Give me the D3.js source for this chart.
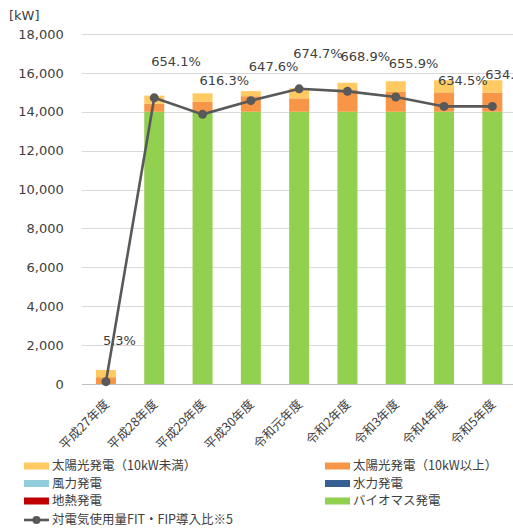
<!DOCTYPE html>
<html><head><meta charset="utf-8">
<script src="https://cdn.jsdelivr.net/npm/d3@7/dist/d3.min.js"></script>
<style>
html,body{margin:0;padding:0;background:#fff;}
svg{display:block;font-family:"DejaVu Sans","Noto Sans CJK JP",sans-serif;}
</style></head>
<body>
<svg id="chart" width="513" height="529"></svg>
<script>
const categories = ['平成27年度','平成28年度','平成29年度','平成30年度','令和元年度','令和2年度','令和3年度','令和4年度','令和5年度'];
const biomass    = [0, 14000, 14000, 14000, 14000, 14000, 14000, 14000, 14000];
const geothermal = [0, 0, 0, 0, 0, 0, 0, 0, 0];
const hydro      = [0, 0, 0, 0, 0, 0, 0, 0, 0];
const wind       = [0, 0, 0, 0, 0, 0, 0, 0, 0];
const solarLarge = [350, 410, 510, 800, 690, 1150, 1020, 1000, 990];
const solarSmall = [370, 420, 440, 260, 520, 340, 550, 620, 630];
const ratio      = [5.3, 654.1, 616.3, 647.6, 674.7, 668.9, 655.9, 634.5, 634.5];
const yTicks     = [0, 2000, 4000, 6000, 8000, 10000, 12000, 14000, 16000, 18000];
const unitLabel  = '[kW]';
const lineName   = '対電気使用量FIT・FIP導入比※5';

// label nudges (position only)
const labelDx = [-3, -3, -3, -2, -6, -7, -7, -6, -7];
const labelDy = [-41, -36, -34, -34, -35, -35, -34, -26, -32];

const series = [
  {key:'biomass', name:'バイオマス発電', values: biomass, color:'#92D050'},
  {key:'geo', name:'地熱発電', values: geothermal, color:'#C00000'},
  {key:'hydro', name:'水力発電', values: hydro, color:'#376092'},
  {key:'wind', name:'風力発電', values: wind, color:'#92CDDC'},
  {key:'solarL', name:'太陽光発電（10kW以上）', values: solarLarge, color:'#F79646'},
  {key:'solarS', name:'太陽光発電（10kW未満）', values: solarSmall, color:'#FFCA61'}
];

const svg = d3.select('#chart');
const x0 = 81.8, x1 = 516.5, yBottom = 384, yTop = 34;

const x = d3.scaleBand().domain(categories).range([x0, x1]).paddingInner(0.586).paddingOuter(0.293);
const y = d3.scaleLinear().domain([0, 18000]).range([yBottom, yTop]);
const y2 = d3.scaleLinear().domain([0, 800]).range([yBottom, yTop]);

// gridlines
svg.append('g').selectAll('line').data(yTicks.filter(d => d > 0)).join('line')
  .attr('x1', x0).attr('x2', 513)
  .attr('y1', d => Math.round(y(d)) + 0.5).attr('y2', d => Math.round(y(d)) + 0.5)
  .attr('stroke', '#d9d9d9').attr('stroke-width', 1);

// y axis via d3.axisLeft (no domain/ticks lines)
const yAxis = svg.append('g').attr('transform', `translate(${x0},0)`)
  .call(d3.axisLeft(y).tickValues(yTicks).tickFormat(d3.format(',')).tickSize(0).tickPadding(18));
yAxis.select('.domain').remove();
yAxis.selectAll('text').attr('font-size', 13).attr('fill', '#404040')
  .attr('font-family', '"DejaVu Sans", sans-serif');

svg.append('text').attr('x', 9).attr('y', 15).attr('dy', '0.35em')
  .attr('font-size', 13).attr('fill', '#404040').text(unitLabel);

// stacked bars
const table = categories.map((c, i) => {
  const o = {cat: c};
  series.forEach(s => o[s.key] = s.values[i]);
  return o;
});
const stack = d3.stack().keys(series.map(s => s.key));
const stacked = stack(table);
svg.append('g').selectAll('g').data(stacked).join('g')
  .attr('fill', (d, i) => series[i].color)
  .selectAll('rect').data(d => d).join('rect')
  .attr('x', d => x(d.data.cat))
  .attr('width', x.bandwidth())
  .attr('y', d => y(d[1]))
  .attr('height', d => Math.max(0, y(d[0]) - y(d[1])));

// baseline
svg.append('line').attr('x1', x0).attr('x2', 513)
  .attr('y1', yBottom + 0.5).attr('y2', yBottom + 0.5)
  .attr('stroke', '#bfbfbf').attr('stroke-width', 1);

// x axis labels
const xAxis = svg.append('g').attr('transform', `translate(0,${yBottom})`)
  .call(d3.axisBottom(x).tickSize(0));
xAxis.select('.domain').remove();
xAxis.selectAll('text')
  .attr('font-size', 12.5).attr('fill', '#404040')
  .attr('font-family', '"Noto Sans CJK JP", sans-serif')
  .attr('text-anchor', 'end')
  .attr('y', 0).attr('dy', 0)
  .attr('transform', 'translate(4,21) rotate(-45)');

// line
const cx = d => x(d) + x.bandwidth() / 2;
const lineGen = d3.line().x((d, i) => cx(categories[i])).y(d => y2(d));
svg.append('path').datum(ratio).attr('d', lineGen)
  .attr('fill', 'none').attr('stroke', '#595959').attr('stroke-width', 2.6);
svg.append('g').selectAll('circle').data(ratio).join('circle')
  .attr('cx', (d, i) => cx(categories[i])).attr('cy', d => y2(d)).attr('r', 4.5)
  .attr('fill', '#595959');

svg.append('g').selectAll('text').data(ratio).join('text')
  .attr('x', (d, i) => cx(categories[i]) + labelDx[i])
  .attr('y', (d, i) => y2(d) + labelDy[i])
  .attr('dy', '0.35em')
  .attr('font-size', 13).attr('fill', '#404040')
  .text(d => d3.format('.1f')(d) + '%');

// legend
const legendItems = [
  {s: series[5], col: 0, row: 0},
  {s: series[4], col: 1, row: 0},
  {s: series[3], col: 0, row: 1},
  {s: series[2], col: 1, row: 1},
  {s: series[1], col: 0, row: 2},
  {s: series[0], col: 1, row: 2}
];
const colX = [24, 325];
const rowY = [466, 483.5, 501, 520];
const lg = svg.append('g').attr('font-family', '"Noto Sans CJK JP", sans-serif').attr('font-size', 12.5).attr('fill', '#404040');
legendItems.forEach(it => {
  lg.append('rect').attr('x', colX[it.col]).attr('y', rowY[it.row] - 3.5)
    .attr('width', 25).attr('height', 7).attr('fill', it.s.color);
  lg.append('text').attr('x', colX[it.col] + 28).attr('y', rowY[it.row]).attr('dy', '0.35em').text(it.s.name);
});
lg.append('line').attr('x1', 24).attr('x2', 49).attr('y1', rowY[3]).attr('y2', rowY[3])
  .attr('stroke', '#595959').attr('stroke-width', 2.6);
lg.append('circle').attr('cx', 36.5).attr('cy', rowY[3]).attr('r', 4).attr('fill', '#595959');
lg.append('text').attr('x', 52).attr('y', rowY[3]).attr('dy', '0.35em').text(lineName);
</script>
</body></html>
